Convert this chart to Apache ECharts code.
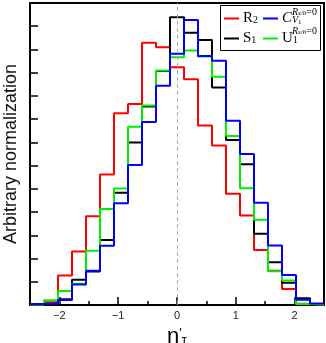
<!DOCTYPE html>
<html>
<head>
<meta charset="utf-8">
<script src="https://cdn.jsdelivr.net/npm/echarts@6/dist/echarts.min.js"></script>
<style>
  html, body { margin: 0; padding: 0; background: #fff; }
  #chart { width: 326px; height: 343px; }
</style>
</head>
<body>
<div id="chart"></div>
<script>
// histogram binning: 21 bins from -2.5 to 2.5
const xMin = -2.5
const xMax = 2.5
const binCount = 21

// bin contents (arbitrary units, one y tick = 1)
const r2 = [0.02, 0.12, 1.27, 2.30, 3.82, 5.62, 8.25, 8.65, 11.29, 11.09, 10.23, 9.72, 7.73, 6.87, 4.79, 3.85, 2.37, 1.47, 0.69, 0.05, 0.01]
const s1 = [0.02, 0.07, 0.25, 1.09, 1.44, 2.80, 4.83, 7.00, 8.54, 10.07, 12.39, 11.72, 11.41, 9.36, 7.10, 6.06, 3.07, 1.84, 0.96, 0.29, 0.03]
const u1 = [0.02, 0.20, 0.60, 0.91, 2.34, 4.13, 5.02, 7.67, 8.59, 10.09, 10.66, 10.95, 10.70, 9.83, 7.27, 5.03, 3.67, 1.45, 1.05, 0.04, 0.02]
const cv = [0.04, 0.06, 0.22, 0.88, 1.47, 2.55, 4.38, 6.03, 7.88, 9.44, 10.82, 12.27, 10.72, 10.51, 7.93, 6.50, 4.40, 2.56, 1.29, 0.23, 0.06]

// x axis ticks
const majorTicks = [-2, -1, 0, 1, 2]
const minorTicks = [-1.5, -0.5, 0.5, 1.5]

const binWidth = (xMax - xMin) / binCount
const edges = []
for (let i = 0; i <= binCount; i++) edges.push(xMin + i * binWidth)

// turn bin contents into step points (left edge of each bin, plus closing right edge)
function toSteps(vals) {
  const pts = vals.map((v, i) => [edges[i], v])
  pts.push([edges[binCount], vals[binCount - 1]])
  return pts
}

const chart = echarts.init(document.getElementById('chart'))

const sansFont = 'Liberation Sans, Arial, sans-serif'
const serifFont = 'Liberation Serif, Times New Roman, serif'

function histSeries(name, vals, color, extra) {
  return Object.assign({
    name: name,
    type: 'line',
    step: 'end',
    data: toSteps(vals),
    showSymbol: false,
    symbol: 'none',
    lineStyle: { color: color, width: 2 },
    itemStyle: { color: color },
    animation: false
  }, extra || {})
}

// rich text pieces for the legend
const legendRich = {
  n: { fontFamily: serifFont, fontSize: 15, color: '#000', lineHeight: 14 },
  ni: { fontFamily: serifFont, fontSize: 15, fontStyle: 'italic', color: '#000', lineHeight: 14 },
  sb: { fontFamily: serifFont, fontSize: 10, color: '#000', lineHeight: 9, verticalAlign: 'bottom' },
  sbi: { fontFamily: serifFont, fontSize: 10, fontStyle: 'italic', color: '#000', lineHeight: 9, verticalAlign: 'bottom' },
  sbs: { fontFamily: serifFont, fontSize: 7, color: '#000', lineHeight: 6, verticalAlign: 'bottom' }
}

const legendText = {
  R2: '{n|R}{sb|2}',
  S1: '{n|S}{sb|1}',
  C: '{ni|C}{sbi|V}{sbs|1}',
  U1: '{n|U}{sb|1}'
}

// superscript R_{s/b}=0 that sits above the subscript of C and U
const supRich = {
  a: { fontFamily: serifFont, fontSize: 10, fontStyle: 'italic', fill: '#000', lineHeight: 10 },
  b: { fontFamily: serifFont, fontSize: 7, fontStyle: 'italic', fill: '#000', lineHeight: 6, verticalAlign: 'bottom' },
  c: { fontFamily: serifFont, fontSize: 10, fill: '#000', lineHeight: 10 }
}
function supText(x, y) {
  return {
    type: 'text', z: 7, x: x, y: y,
    style: { text: '{a|R}{b|s/b}{c|=0}', rich: supRich, verticalAlign: 'middle', align: 'left' }
  }
}

function legendAt(name, left, top) {
  return {
    data: [name],
    left: left,
    top: top,
    padding: 0,
    icon: 'rect',
    itemWidth: 15,
    itemHeight: 2,
    itemGap: 3,
    selectedMode: false,
    z: 6,
    formatter: n => legendText[n],
    textStyle: { rich: legendRich, padding: [0, 0, 0, -1] }
  }
}

const option = {
  animation: false,
  backgroundColor: '#fff',
  grid: {
    left: 30, right: 2, top: 3, bottom: 38,
    outerBoundsMode: 'none',
    containLabel: false,
    show: true, borderColor: '#000', borderWidth: 2, backgroundColor: 'transparent'
  },
  xAxis: [
    {
      type: 'value',
      min: xMin, max: xMax,
      position: 'bottom',
      axisLine: { show: true, onZero: false, lineStyle: { color: '#000', width: 2 } },
      axisTick: { show: true, inside: true, length: 8, customValues: majorTicks, lineStyle: { color: '#000', width: 1.5 } },
      axisLabel: {
        customValues: majorTicks, margin: 5,
        fontFamily: sansFont, fontSize: 11, color: '#222',
        formatter: v => (v < 0 ? '\u2212' + Math.abs(v) : String(v))
      },
      splitLine: { show: false },
      name: '{e|\u03b7}{p|\u2032}{t|\u03c4}',
      nameLocation: 'middle',
      nameGap: 2,
      nameTextStyle: {
        rich: {
          e: { fontFamily: sansFont, fontSize: 22, color: '#000', lineHeight: 20 },
          p: { fontFamily: sansFont, fontSize: 13, color: '#000', verticalAlign: 'top', lineHeight: 10 },
          t: { fontFamily: sansFont, fontSize: 13, color: '#000', verticalAlign: 'bottom', lineHeight: 10 }
        }
      }
    },
    {
      type: 'value',
      min: xMin, max: xMax,
      position: 'bottom',
      axisLine: { show: false, onZero: false },
      axisTick: { show: true, inside: true, length: 4, customValues: minorTicks, lineStyle: { color: '#000', width: 1.5 } },
      axisLabel: { show: false },
      splitLine: { show: false }
    }
  ],
  yAxis: {
    type: 'value',
    min: 0, max: 13, interval: 1,
    axisLine: { show: true, onZero: false, lineStyle: { color: '#000', width: 2 } },
    axisTick: { show: true, inside: true, length: 8, lineStyle: { color: '#000', width: 1.5 } },
    axisLabel: { show: false },
    splitLine: { show: false },
    name: 'Arbitrary normalization',
    nameLocation: 'middle',
    nameGap: 10,
    nameTextStyle: { fontFamily: sansFont, fontSize: 18, color: '#111' }
  },
  legend: [
    legendAt('R2', 224, 11),
    legendAt('S1', 224, 31),
    legendAt('C', 263, 11),
    legendAt('U1', 263, 31)
  ],
  graphic: [
    {
      type: 'rect', z: 5,
      shape: { x: 220.5, y: 5.5, width: 100, height: 45 },
      style: { fill: '#fff', stroke: '#000', lineWidth: 1 }
    },
    supText(292, 12),
    supText(292, 31)
  ],
  series: [
    histSeries('R2', r2, '#ff0000', {
      markLine: {
        silent: true, symbol: 'none', label: { show: false },
        lineStyle: { color: '#aaaaaa', type: [4, 3], width: 1 },
        data: [{ xAxis: 0 }]
      }
    }),
    histSeries('S1', s1, '#000000'),
    histSeries('U1', u1, '#00ee00'),
    histSeries('C', cv, '#0000ff')
  ]
}

chart.setOption(option)
</script>
</body>
</html>
